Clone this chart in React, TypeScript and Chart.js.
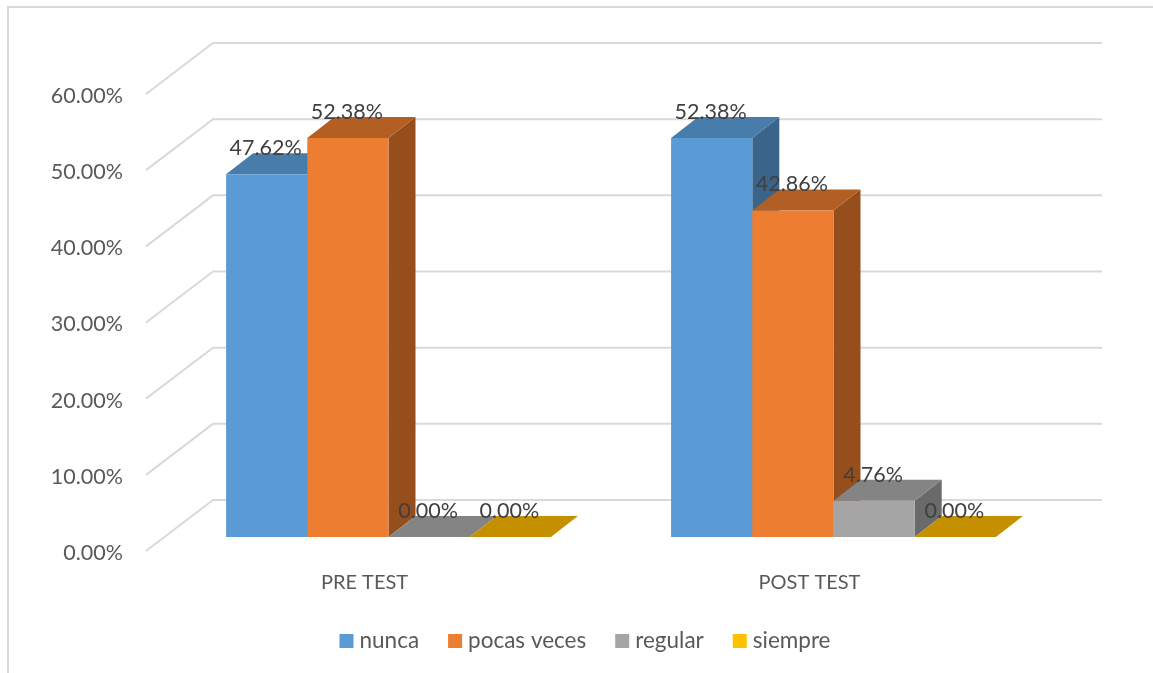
import React, { useEffect, useRef } from "react";
import { Chart, registerables } from "chart.js";

Chart.register(...registerables);

const categories = ["PRE TEST", "POST TEST"];
const nunca = [47.62, 52.38];
const pocasVeces = [52.38, 42.86];
const regular = [0, 4.76];
const siempre = [0, 0];
const yTicks = [0, 10, 20, 30, 40, 50, 60];

const FONT = "Lato, Carlito, sans-serif";
const DX = 27;
const DY = 21;

const faces: Record<string, { top: string; side: string }> = {
  nunca: { top: "#487CAB", side: "#3A6489" },
  "pocas veces": { top: "#B35F24", side: "#954E1C" },
  regular: { top: "#848484", side: "#6A6A6A" },
  siempre: { top: "#C49000", side: "#A07600" },
};

const fmt = (v: number) => v.toFixed(2) + "%";

function poly(ctx: CanvasRenderingContext2D, pts: number[][], fill: string) {
  ctx.beginPath();
  pts.forEach(([x, y], i) => (i ? ctx.lineTo(x, y) : ctx.moveTo(x, y)));
  ctx.closePath();
  ctx.fillStyle = fill;
  ctx.fill();
}

const outer = {
  id: "outer",
  beforeDraw(chart: any) {
    const { ctx } = chart;
    ctx.save();
    ctx.strokeStyle = "#D9D9D9";
    ctx.lineWidth = 2;
    ctx.beginPath();
    ctx.moveTo(8, 673);
    ctx.lineTo(8, 7);
    ctx.lineTo(1153, 7);
    ctx.stroke();
    ctx.restore();
  },
};

const bars3d = {
  id: "bars3d",
  beforeDatasetsDraw(chart: any) {
    const { ctx, scales, chartArea } = chart;
    const y = scales.y;
    ctx.save();
    ctx.strokeStyle = "#D9D9D9";
    ctx.lineWidth = 2;
    const frontX = chartArea.left - 20;
    const backX = chartArea.left + 47;
    const endX = 1102;
    yTicks.forEach((v) => {
      const p = y.getPixelForValue(v);
      ctx.beginPath();
      ctx.moveTo(frontX, p + 14);
      ctx.lineTo(backX, p - 37);
      ctx.lineTo(endX, p - 37);
      ctx.stroke();
    });
    ctx.restore();

    // first series first, so each bar covers the side of the one on its left
    chart.data.datasets.forEach((ds: any, i: number) => {
      const meta = chart.getDatasetMeta(i);
      const f = faces[ds.label];
      meta.data.forEach((bar: any) => {
        const l = bar.x - bar.width / 2;
        const r = bar.x + bar.width / 2;
        const t = bar.y;
        const b = bar.base;
        poly(ctx, [[r, t], [r + DX, t - DY], [r + DX, b - DY], [r, b]], f.side);
        poly(ctx, [[l, t], [l + DX, t - DY], [r + DX, t - DY], [r, t]], f.top);
      });
      meta.controller.draw();
    });
  },
  beforeDatasetDraw() {
    return false;
  },
  afterDatasetsDraw(chart: any) {
    const { ctx } = chart;
    ctx.save();
    ctx.font = `21.5px ${FONT}`;
    ctx.fillStyle = "#404040";
    ctx.textAlign = "center";
    ctx.textBaseline = "middle";
    chart.data.datasets.forEach((ds: any, i: number) => {
      chart.getDatasetMeta(i).data.forEach((bar: any, j: number) => {
        ctx.fillText(fmt(ds.data[j]), bar.x - 1, bar.y - 26);
      });
    });
    ctx.restore();
  },
};

const legendRow = {
  id: "legendRow",
  afterDraw(chart: any) {
    const { ctx } = chart;
    const box = 14;
    const textGap = 6;
    const itemGap = 29;
    ctx.save();
    ctx.font = `22.5px ${FONT}`;
    ctx.textAlign = "left";
    ctx.textBaseline = "middle";
    const items = chart.data.datasets.map((ds: any) => ({
      label: ds.label,
      color: ds.backgroundColor,
      w: ctx.measureText(ds.label).width,
    }));
    const total =
      items.reduce((s: number, it: any) => s + box + textGap + it.w, 0) +
      itemGap * (items.length - 1);
    let x = 585 - total / 2;
    const cy = 641;
    items.forEach((it: any) => {
      ctx.fillStyle = it.color;
      ctx.fillRect(x, cy - box / 2, box, box);
      ctx.fillStyle = "#595959";
      ctx.fillText(it.label, x + box + textGap, cy);
      x += box + textGap + it.w + itemGap;
    });
    ctx.restore();
  },
};

export default function App() {
  const ref = useRef<HTMLCanvasElement>(null);
  useEffect(() => {
    const chart = new Chart(ref.current!, {
      type: "bar",
      data: {
        labels: categories,
        datasets: [
          { label: "nunca", data: nunca, backgroundColor: "#5B9BD5" },
          { label: "pocas veces", data: pocasVeces, backgroundColor: "#ED7D31" },
          { label: "regular", data: regular, backgroundColor: "#A5A5A5" },
          { label: "siempre", data: siempre, backgroundColor: "#FFC000" },
        ],
      },
      plugins: [outer, bars3d, legendRow],
      options: {
        responsive: false,
        animation: false,
        layout: { padding: { left: 0, right: 97, top: 80, bottom: 76 } },
        datasets: { bar: { barPercentage: 1, categoryPercentage: 0.73 } },
        plugins: {
          title: { display: false },
          tooltip: { enabled: false },
          legend: { display: false },
        },
        scales: {
          x: {
            grid: { display: false },
            border: { display: false },
            afterFit(s: any) {
              s.height = 60;
              s.paddingLeft = 0;
              s.paddingRight = 0;
            },
            ticks: {
              color: "#595959",
              font: { family: FONT, size: 20 },
              padding: 26,
              labelOffset: -24,
              maxRotation: 0,
            },
          },
          y: {
            min: 0,
            max: 60,
            grid: { display: false },
            border: { display: false },
            afterFit(s: any) {
              s.width = 166;
              s.paddingTop = 0;
              s.paddingBottom = 0;
            },
            afterTickToLabelConversion(s: any) {
              s.ticks.forEach((t: any) => (t.label = fmt(t.value)));
            },
            ticks: {
              stepSize: 10,
              color: "#595959",
              font: { family: FONT, size: 21.5 },
              padding: 35,
              labelOffset: 16,
            },
          },
        },
      },
    } as any);
    return () => chart.destroy();
  }, []);
  return (
    <div style={{ position: "fixed", left: 0, top: 0, background: "#fff" }}>
      <canvas ref={ref} width={1153} height={673} style={{ display: "block" }} />
    </div>
  );
}
